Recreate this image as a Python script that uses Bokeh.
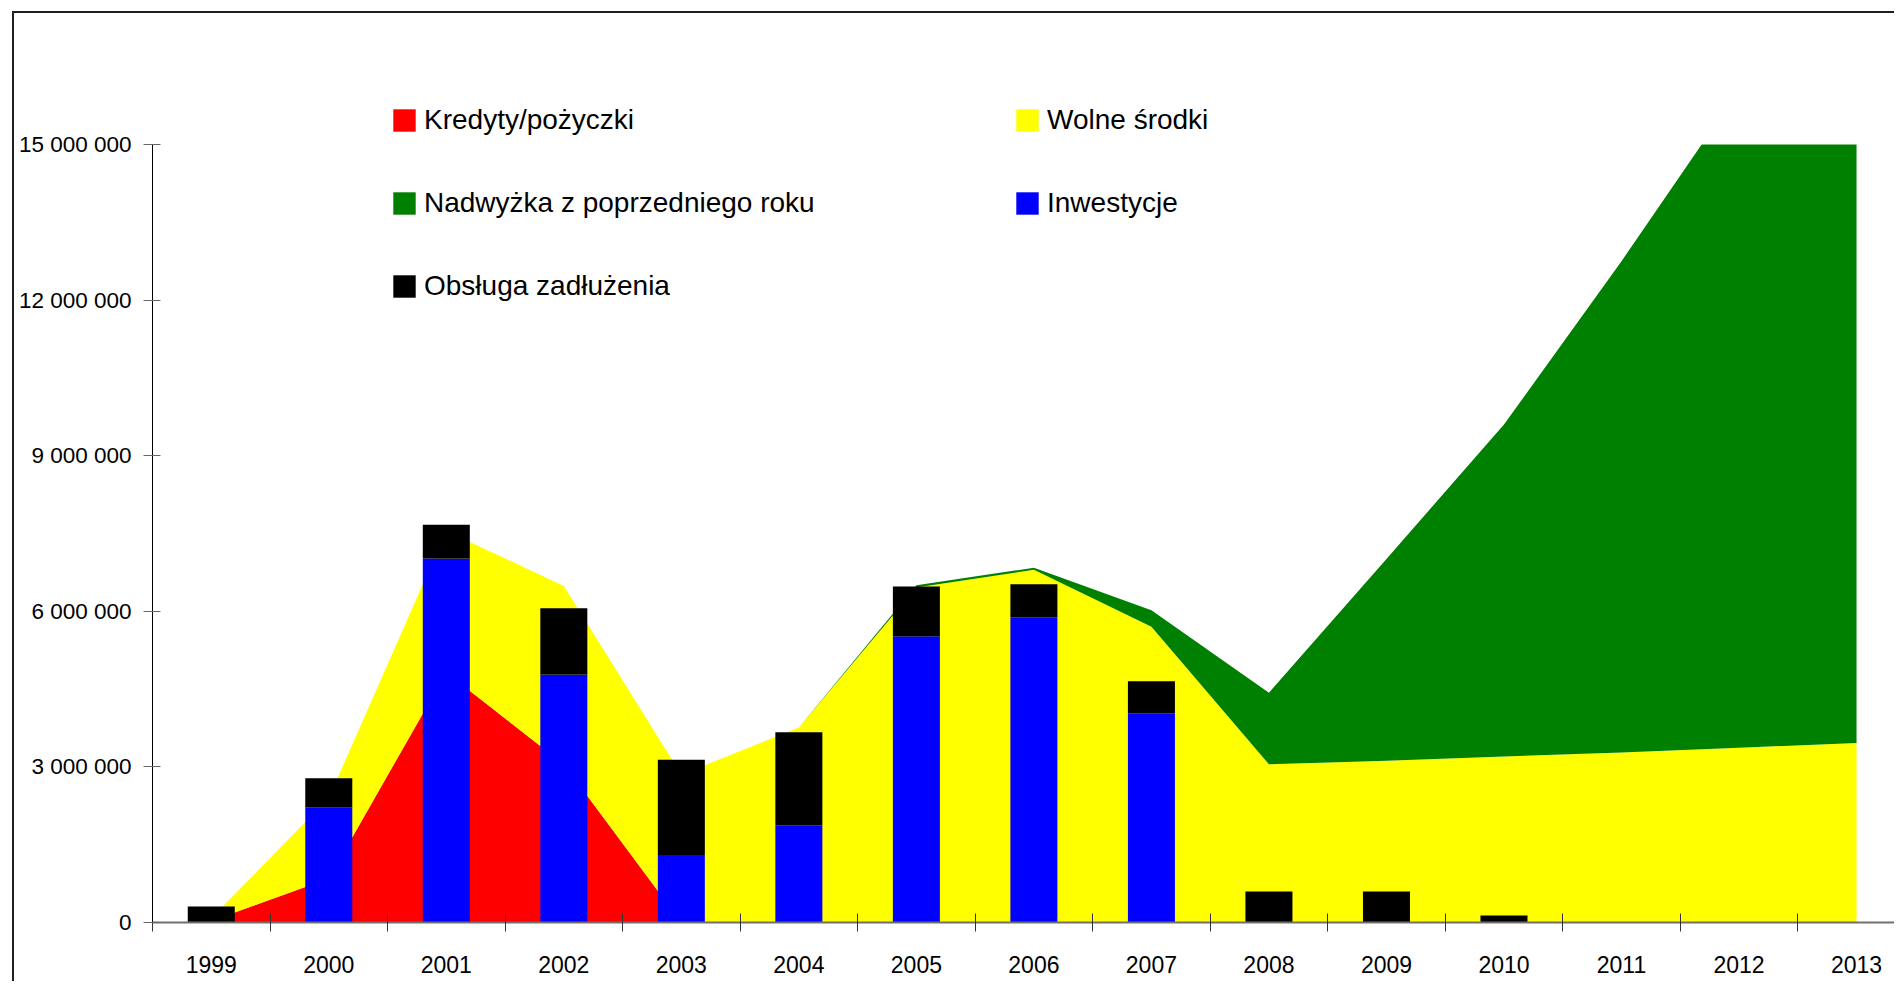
from bokeh.plotting import figure
from bokeh.models import (Range1d, FixedTicker, Legend, LegendItem, ColumnDataSource,
                          BoxAnnotation)
from bokeh.embed import file_html
from bokeh.resources import INLINE

# ---- data ----
years = ["1999", "2000", "2001", "2002", "2003", "2004", "2005", "2006",
         "2007", "2008", "2009", "2010", "2011", "2012", "2013"]
kredyty = [30000, 850000, 4820000, 3050000, 0, 0, 0, 0, 0, 0, 0, 0, 0, 0, 0]
wolne_srodki = [50000, 1550000, 2730000, 3440000, 2850000, 3760000, 6460000, 6800000,
                5700000, 3050000, 3120000, 3200000, 3280000, 3370000, 3460000]
nadwyzka = [0, 0, 0, 0, 0, 0, 40000, 40000, 320000, 1380000, 3890000, 6400000,
            9470000, 12680000, 13700000]
inwestycje = [0, 2220000, 7020000, 4780000, 1300000, 1870000, 5520000, 5880000,
              4030000, 0, 0, 0, 0, 0, 0]
obsluga = [310000, 560000, 650000, 1280000, 1840000, 1800000, 960000, 640000,
           620000, 600000, 600000, 135000, 0, 0, 0]
y_ticks = [0, 3000000, 6000000, 9000000, 12000000, 15000000]
y_tick_labels = ["0", "3 000 000", "6 000 000", "9 000 000", "12 000 000", "15 000 000"]
labels = ["Kredyty/pożyczki", "Wolne środki", "Nadwyżka z poprzedniego roku",
          "Inwestycje", "Obsługa zadłużenia"]
y_axis_max = 15000000

FONT = "Liberation Sans"

x_pos = [i + 0.5 for i in range(len(years))]
src = ColumnDataSource(dict(x=x_pos, kredyty=kredyty, wolne=wolne_srodki,
                            nadwyzka=nadwyzka, inwestycje=inwestycje, obsluga=obsluga))

# ---- layout (pixels on the canvas) ----
W, H = 1882, 970
ML, MB = 138, 61
axis_px = H - MB            # canvas y of value 0
top_tick_px = 131           # canvas y of the 15 000 000 tick
cat_px = 117.52
x_end = (W - ML) / cat_px
y_end = y_axis_max * axis_px / (axis_px - top_tick_px)

p = figure(width=W, height=H, output_backend="svg", toolbar_location=None,
           x_range=Range1d(0, x_end), y_range=Range1d(0, y_end),
           min_border_left=ML, min_border_top=0, min_border_bottom=MB, min_border_right=0)
p.outline_line_color = None
p.grid.visible = False
p.background_fill_color = "white"
p.border_fill_color = "white"
p.styles = {"margin-left": "12px", "margin-top": "11px",
            "border-left": "2px solid #1e1e1e", "border-top": "2px solid #1e1e1e"}

areas = p.varea_stack(["kredyty", "wolne", "nadwyzka"], x="x",
                      fill_color=["#FF0000", "#FFFF00", "#008000"], source=src)
bars = p.vbar_stack(["inwestycje", "obsluga"], x="x", width=0.40,
                    fill_color=["#0000FF", "#000000"], line_color=None, source=src)

# the value axis stops at 15 000 000: nothing is drawn above it
cover = BoxAnnotation(bottom=y_axis_max, fill_color="white", fill_alpha=1.0,
                      line_color=None, level="glyph")
p.add_layout(cover)

# x axis
xa = p.xaxis[0]
xa.ticker = FixedTicker(ticks=x_pos, minor_ticks=list(range(0, 15)))
xa.major_label_overrides = {x: y for x, y in zip(x_pos, years)}
xa.major_tick_line_color = None
xa.major_tick_in = 0
xa.major_tick_out = 0
xa.minor_tick_in = 9
xa.minor_tick_out = 9
xa.minor_tick_line_color = "#333333"
xa.axis_line_color = "#707070"
xa.axis_line_width = 2
xa.major_label_text_font = FONT
xa.major_label_text_font_size = "23px"
xa.major_label_text_color = "black"
xa.major_label_standoff = 24

# y axis
ya = p.yaxis[0]
ya.bounds = (0, y_axis_max)
ya.ticker = FixedTicker(ticks=y_ticks, minor_ticks=[])
ya.major_label_overrides = {t: s for t, s in zip(y_ticks, y_tick_labels)}
ya.major_tick_in = 8
ya.major_tick_out = 9
ya.major_tick_line_color = "#666666"
ya.minor_tick_line_color = None
ya.axis_line_color = "black"
ya.axis_line_width = 1
ya.major_label_text_font = FONT
ya.major_label_text_font_size = "22.5px"
ya.major_label_text_color = "black"
ya.major_label_standoff = 12

ITEM_H, SPACING = 32, 51
LEG_TOP = 91


def make_legend(items, x_loc):
    n = len(items)
    bottom = LEG_TOP + n * ITEM_H + (n - 1) * SPACING
    lg = Legend(items=items, location=(x_loc, axis_px - bottom), orientation="vertical",
                spacing=SPACING, padding=0, margin=0, glyph_width=28, glyph_height=28,
                label_height=ITEM_H, label_standoff=6, label_text_font=FONT,
                label_text_font_size="28px", label_text_color="black",
                border_line_color=None, background_fill_alpha=0)
    return lg


leg1 = make_legend([LegendItem(label=labels[0], renderers=[areas[0]]),
                    LegendItem(label=labels[2], renderers=[areas[2]]),
                    LegendItem(label=labels[4], renderers=[bars[1]])], 238)
leg2 = make_legend([LegendItem(label=labels[1], renderers=[areas[1]]),
                    LegendItem(label=labels[3], renderers=[bars[0]])], 861)
p.add_layout(leg1)
p.add_layout(leg2)

open("out.html", "w").write(file_html(p, INLINE))
